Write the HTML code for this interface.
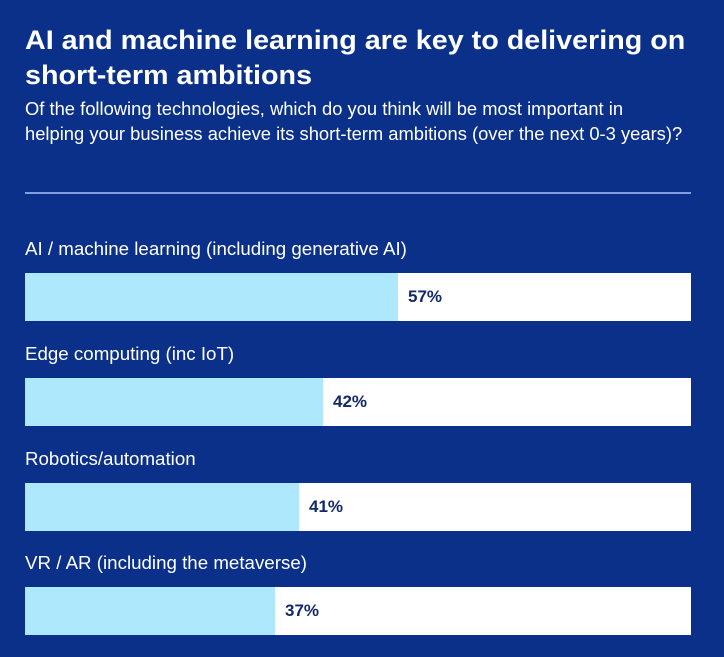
<!DOCTYPE html>
<html><head><style>
body{margin:0;width:724px;height:657px;background:#0b3089;font-family:"Liberation Sans",sans-serif;color:#fff;position:relative;overflow:hidden}
.a{position:absolute;white-space:nowrap;transform-origin:0 0}
.t{font-weight:bold;font-size:27px;left:25px;transform:scaleX(1.063)}
.s{font-size:18px;left:25px;transform:scaleX(1.02)}
.l{font-size:18px;left:25px;transform:scaleX(1.04)}
.bar{position:absolute;left:25px;width:666px;height:48px;background:#fff}
.f{position:absolute;left:0;top:0;height:48px;background:#ade8fc}
.v{position:absolute;top:14px;font-weight:bold;font-size:17px;color:#13296b}
</style></head><body>
<div class="a t" style="top:25px">AI and machine learning are key to delivering on</div>
<div class="a t" style="top:60px">short-term ambitions</div>
<div class="a s" style="top:99px">Of the following technologies, which do you think will be most important in</div>
<div class="a s" style="top:124px">helping your business achieve its short-term ambitions (over the next 0-3 years)?</div>
<div style="position:absolute;left:25px;top:192px;width:666px;height:2px;background:#7f9fe0"></div>

<div class="a l" style="top:239px">AI / machine learning (including generative AI)</div>
<div class="bar" style="top:273px"><div class="f" style="width:373px"></div><div class="v" style="left:383px">57%</div></div>

<div class="a l" style="top:344px">Edge computing (inc IoT)</div>
<div class="bar" style="top:378px"><div class="f" style="width:298px"></div><div class="v" style="left:308px">42%</div></div>

<div class="a l" style="top:449px">Robotics/automation</div>
<div class="bar" style="top:483px"><div class="f" style="width:274px"></div><div class="v" style="left:284px">41%</div></div>

<div class="a l" style="top:553px">VR / AR (including the metaverse)</div>
<div class="bar" style="top:587px"><div class="f" style="width:250px"></div><div class="v" style="left:260px">37%</div></div>
</body></html>
